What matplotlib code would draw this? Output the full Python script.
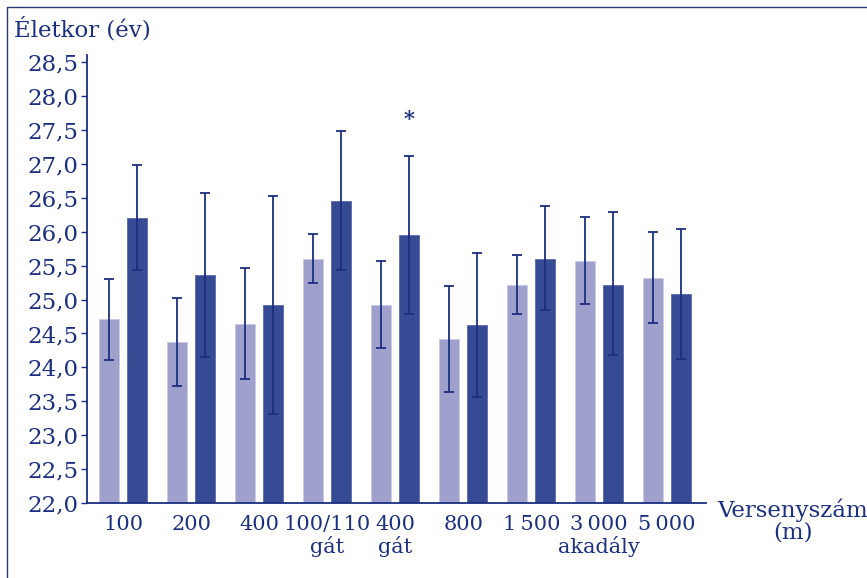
import matplotlib
matplotlib.use("Agg")
import matplotlib.pyplot as plt
import numpy as np
from matplotlib.lines import Line2D

# Versenyszámok (kategóriák)
events = ["100", "200", "400", "100/110\ngát", "400\ngát", "800",
          "1\u2009500", "3\u2009000\nakadály", "5\u2009000"]

# Világos oszlopok: átlag, szórás felső / alsó vége
light_mean = [24.72, 24.37, 24.64, 25.60, 24.92, 24.42, 25.22, 25.57, 25.32]
light_hi = [25.31, 25.02, 25.47, 25.97, 25.57, 25.20, 25.66, 26.22, 26.00]
light_lo = [24.11, 23.72, 23.83, 25.25, 24.28, 23.63, 24.78, 24.93, 24.65]

# Sötét oszlopok
dark_mean = [26.20, 25.36, 24.92, 26.45, 25.95, 24.62, 25.60, 25.22, 25.08]
dark_hi = [26.98, 26.57, 26.53, 27.48, 27.12, 25.69, 26.38, 26.29, 26.04]
dark_lo = [25.43, 24.15, 23.31, 25.43, 24.78, 23.56, 24.84, 24.18, 24.13]

# Csillag (szignifikáns különbség) jelzése
star_index = 4

yticks = np.arange(22.0, 28.51, 0.5)
ytick_labels = [f"{v:.1f}".replace(".", ",") for v in yticks]

NAVY = "#1c2f80"
LIGHT = "#a0a0cc"
DARK = "#364b94"
FONT = "DejaVu Serif"

plt.rcParams["font.family"] = [FONT]

fig = plt.figure(figsize=(8.67, 5.78), dpi=100)
ax = fig.add_axes([0.1007, 0.1298, 0.8143 - 0.1007, 0.904 - 0.1298])

x = np.arange(len(events))
w = 0.294
off = 0.206

lm = np.array(light_mean)
dm = np.array(dark_mean)
ax.bar(x - off, lm - 22.0, w, bottom=22.0, color=LIGHT, edgecolor="#c8c8e4", linewidth=0.6, zorder=2)
ax.bar(x + off, dm - 22.0, w, bottom=22.0, color=DARK, edgecolor="#5a6aaa", linewidth=0.6, zorder=2)

err_l = [lm - np.array(light_lo), np.array(light_hi) - lm]
err_d = [dm - np.array(dark_lo), np.array(dark_hi) - dm]
ax.errorbar(x - off, lm, yerr=err_l, fmt="none", ecolor=NAVY, elinewidth=1.3,
            capsize=3.7, capthick=1.3, zorder=3)
ax.errorbar(x + off, dm, yerr=err_d, fmt="none", ecolor=NAVY, elinewidth=1.3,
            capsize=3.7, capthick=1.3, zorder=3)

ax.text(star_index + off, dark_hi[star_index] + 0.55, "*", ha="center", va="center",
        fontsize=15, color=NAVY, fontweight="bold")

ax.set_xlim(-0.53, 8.57)
ax.set_ylim(22.0, 28.6)
ax.set_yticks(yticks)
ax.set_yticklabels(ytick_labels)
ax.set_xticks(x)
ax.set_xticklabels(events, linespacing=1.1)

ax.tick_params(axis="y", direction="out", length=4.5, width=1.0, color=NAVY,
               labelcolor=NAVY, labelsize=16.5, pad=2)
ax.tick_params(axis="x", length=0, labelcolor=NAVY, labelsize=15, pad=9)

for s in ["top", "right"]:
    ax.spines[s].set_visible(False)
for s in ["left", "bottom"]:
    ax.spines[s].set_color(NAVY)
    ax.spines[s].set_linewidth(1.3)

fig.text(14 / 867, 1 - 29 / 578, "Életkor (év)", ha="left", va="center",
         fontsize=16.5, color=NAVY)
fig.text(793 / 867, 1 - 521 / 578, "Versenyszám\n(m)", ha="center", va="center",
         fontsize=16.5, color=NAVY, linespacing=1.0)

# keret a kép körül
fx = 7 / 867
fy = 1 - 7 / 578
fig.add_artist(Line2D([fx, fx, 1.0], [0.0, fy, fy], transform=fig.transFigure,
                      color="#2a3570", linewidth=1.0))

fig.savefig("out.png", dpi=100)
